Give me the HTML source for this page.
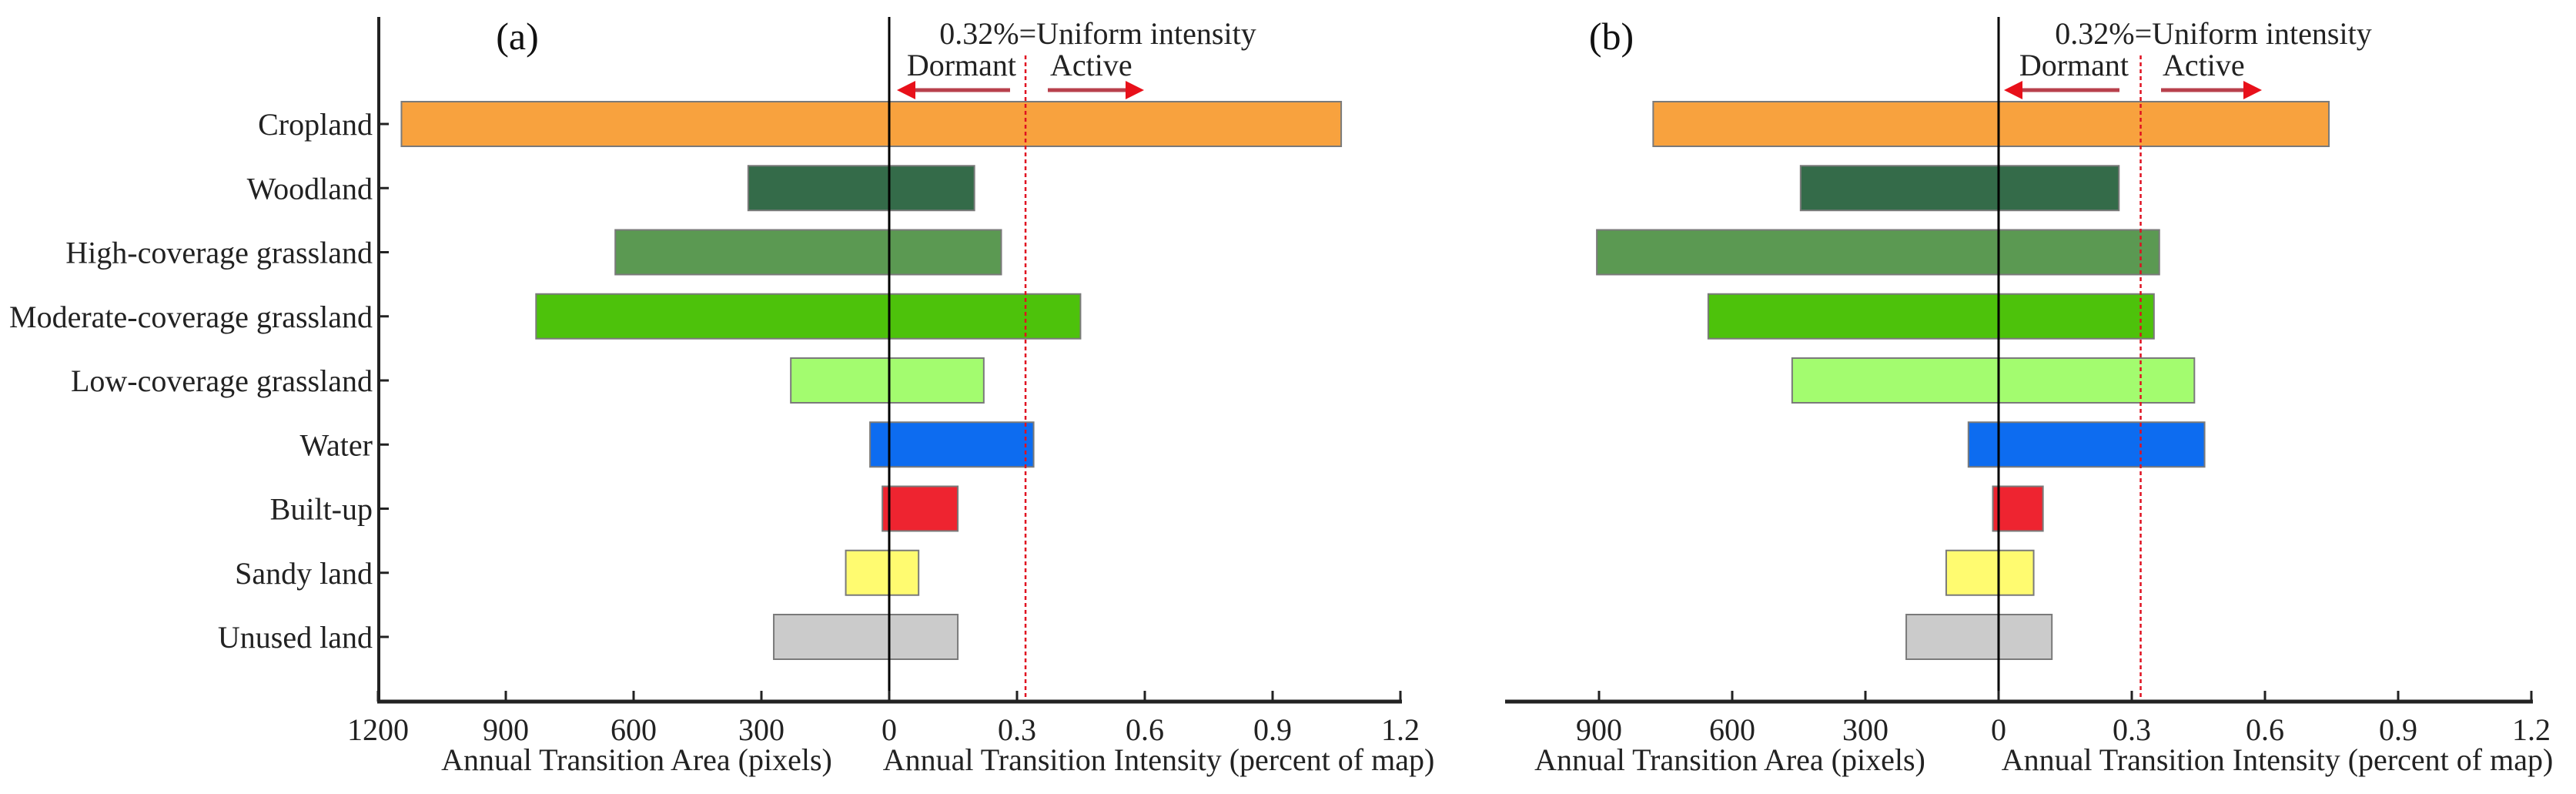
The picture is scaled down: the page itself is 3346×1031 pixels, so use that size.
<!DOCTYPE html>
<html><head><meta charset="utf-8"><style>
html,body{margin:0;padding:0;background:#fff;}
svg{display:block;font-family:"Liberation Serif",serif;}
</style></head><body>
<svg id="chart" width="3346" height="1031" viewBox="0 0 3346 1031" xmlns="http://www.w3.org/2000/svg">
</svg>
<script>
const categories = ["Cropland","Woodland","High-coverage grassland","Moderate-coverage grassland","Low-coverage grassland","Water","Built-up","Sandy land","Unused land"];
const colors = ["#f8a23e","#346b49","#5b9952","#4dc20b","#a3fc6f","#0d6cf0","#ee2430","#fffb70","#cbcbcb"];
const areaA = [1145,331,643,829,231,45,16,102,271];
const intensityA = [1.061,0.20,0.263,0.449,0.222,0.339,0.161,0.069,0.161];
const areaB = [778,446,905,654,465,68,13,118,208];
const intensityB = [0.744,0.271,0.362,0.350,0.441,0.464,0.10,0.079,0.12];
const areaTicks = [1200,900,600,300];
const intensityTicks = [0,0.3,0.6,0.9,1.2];
const uniform = 0.32;

const NS="http://www.w3.org/2000/svg";
const svg=document.getElementById('chart');
function el(tag,attrs,parent){const e=document.createElementNS(NS,tag);for(const k in attrs)e.setAttribute(k,attrs[k]);(parent||svg).appendChild(e);return e;}
function txt(s,attrs,parent){const e=el('text',attrs,parent);e.textContent=s;return e;}

const rowY0=161, rowStep=83.25, barH=58, axisY=911, topY=22, FS=40;
function yRow(i){return rowY0+i*rowStep;}

function panel(cfg){
  const g=el('g',{});
  
  
  const xA=v=>cfg.zero-v/300*cfg.tick;
  const xI=v=>cfg.zero+v/0.3*cfg.tick;
  for(let i=0;i<categories.length;i++){
    const x0=xA(cfg.area[i]), x1=xI(cfg.intensity[i]);
    const r=el('rect',{x:x0,y:yRow(i)-barH/2,width:x1-x0,height:barH,fill:colors[i],stroke:'#7a7a7a','stroke-width':2},g);
    
    
  }
  const zl=el('line',{x1:cfg.zero,y1:topY,x2:cfg.zero,y2:axisY,stroke:'#000','stroke-width':3},g);
  
  
  const ul=el('line',{x1:xI(uniform),y1:72,x2:xI(uniform),y2:axisY,stroke:'#e01020','stroke-width':2.5,'stroke-dasharray':'5,4'},g);
  
  
  const ax=el('line',{x1:cfg.axisStart,y1:axisY,x2:xI(1.2)+2,y2:axisY,stroke:'#222','stroke-width':5},g);
  
  
  areaTicks.forEach(v=>{
    if(v>cfg.maxArea) return;
    const x=xA(v);
    el('line',{x1:x,y1:axisY,x2:x,y2:axisY-14,stroke:'#222','stroke-width':3},g);
    const t=txt(String(v),{x:x,y:961,'text-anchor':'middle','font-size':FS,fill:'#222'},g);
    
    
  });
  intensityTicks.forEach(v=>{
    const x=xI(v);
    el('line',{x1:x,y1:axisY,x2:x,y2:axisY-14,stroke:'#222','stroke-width':3},g);
    const t=txt(v===0?'0':v.toFixed(1),{x:x,y:961,'text-anchor':'middle','font-size':FS,fill:'#222'},g);
    
    
  });
  const t1=txt('Annual Transition Area (pixels)',{x:cfg.titleA,y:1000,'text-anchor':'middle','font-size':FS,fill:'#222'},g);
  
  
  const t2=txt('Annual Transition Intensity (percent of map)',{x:cfg.titleI,y:1000,'text-anchor':'middle','font-size':FS,fill:'#222'},g);
  
  
  const pl=txt(cfg.label,{x:cfg.labelX,y:64,'text-anchor':'middle','font-size':50,fill:'#111'},g);
  
  
  const ut=txt('0.32%=Uniform intensity',{x:cfg.uniX,y:57,'text-anchor':'middle','font-size':FS,fill:'#222'},g);
  
  
  const dt=txt('Dormant',{x:cfg.dormX,y:98,'text-anchor':'end','font-size':FS,fill:'#222'},g);
  
  
  const at=txt('Active',{x:cfg.actX,y:98,'text-anchor':'start','font-size':FS,fill:'#222'},g);
  
  
  const a1=el('line',{x1:cfg.arrL[1],y1:117,x2:cfg.arrL[0]+14,y2:117,stroke:'#b8404c','stroke-width':5},g);
  
  
  el('path',{d:`M${cfg.arrL[0]},117 L${cfg.arrL[0]+24},105 L${cfg.arrL[0]+24},129 z`,fill:'#e8101a'},g);
  const a2=el('line',{x1:cfg.arrR[0],y1:117,x2:cfg.arrR[1]-14,y2:117,stroke:'#b8404c','stroke-width':5},g);
  
  
  el('path',{d:`M${cfg.arrR[1]},117 L${cfg.arrR[1]-24},105 L${cfg.arrR[1]-24},129 z`,fill:'#e8101a'},g);
  return g;
}

panel({name:'panel-a',zero:1155,tick:166,area:areaA,intensity:intensityA,axisStart:490,maxArea:1200,
  titleA:827,titleI:1505,label:'(a)',labelX:672,uniX:1426,dormX:1320,actX:1364,arrL:[1165,1312],arrR:[1361,1486]});
panel({name:'panel-b',zero:2596,tick:173,area:areaB,intensity:intensityB,axisStart:1955,maxArea:900,
  titleA:2247,titleI:2958,label:'(b)',labelX:2093,uniX:2875,dormX:2765,actX:2809,arrL:[2603,2753],arrR:[2807,2938]});

const ya=el('line',{x1:492,y1:topY,x2:492,y2:axisY+2,stroke:'#222','stroke-width':4});


categories.forEach((c,i)=>{
  el('line',{x1:492,y1:yRow(i),x2:505,y2:yRow(i),stroke:'#222','stroke-width':3});
  const t=txt(c,{x:484,y:yRow(i)+14,'text-anchor':'end','font-size':FS,fill:'#222'});
  
  
});
</script>
</body></html>
